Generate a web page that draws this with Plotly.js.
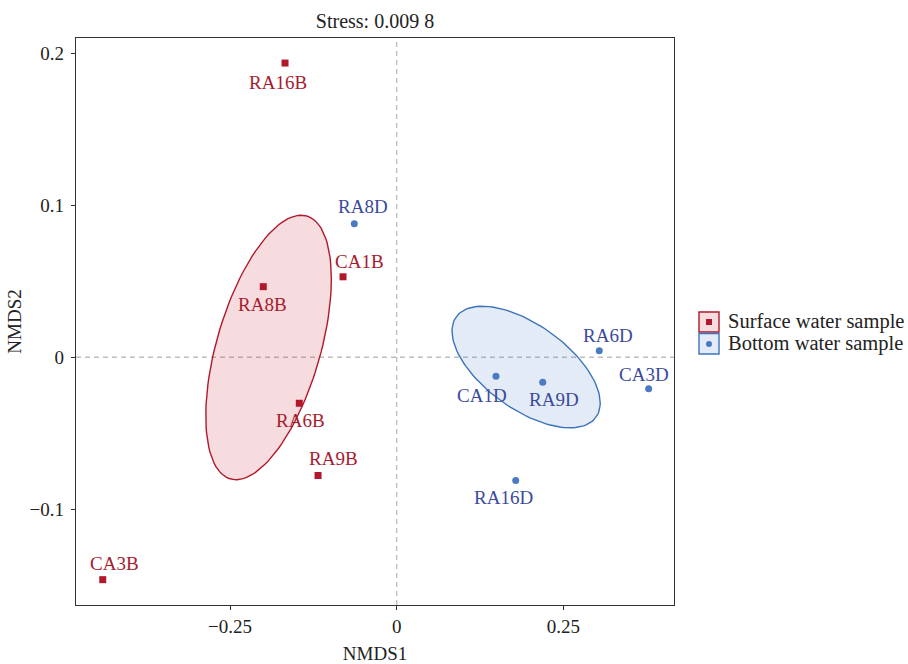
<!DOCTYPE html>
<html>
<head>
<meta charset="utf-8">
<script src="https://cdn.plot.ly/plotly-3.0.1.min.js"></script>
<style>html,body{margin:0;padding:0;background:#fff;}#chart{width:908px;height:664px;}</style>
</head>
<body>
<div id="chart"></div>
<script>
// ---- data ----
var groupNames = ["Surface water sample", "Bottom water sample"];

var surfaceLabels = ["RA16B", "RA8B", "CA1B", "RA6B", "RA9B", "CA3B"];
var surfaceX = [-0.1675, -0.2001, -0.0805, -0.1461, -0.1180, -0.4409];
var surfaceY = [0.1938, 0.0465, 0.0530, -0.0303, -0.0779, -0.1465];

var bottomLabels = ["RA8D", "RA6D", "CA3D", "CA1D", "RA9D", "RA16D"];
var bottomX = [-0.0636, 0.3038, 0.3779, 0.1489, 0.2190, 0.1785];
var bottomY = [0.0879, 0.0043, -0.0207, -0.0125, -0.0164, -0.0812];

var stressText = "Stress: 0.009 8";
var xTickVals = [-0.25, 0, 0.25];
var xTickText = ["\u22120.25", "0", "0.25"];
var yTickVals = [-0.1, 0, 0.1, 0.2];
var yTickText = ["\u22120.1", "0", "0.1", "0.2"];
var ellipseConf = 0.8;

// ---- label offsets (pixels, styling) ----
var surfaceShift = [[-7, 19], [-1, 17.5], [16, -15], [1, 17], [15, -17], [12, -16]];
var bottomShift = [[9, -17], [9, -15], [-5, -14], [-14, 19], [11, 17], [-12, 17]];

var RED = "#B2182B", REDTXT = "#A51C30";
var BLUE = "#4A7AC0", BLUELINE = "#3B73BC", BLUETXT = "#3B4A9C";
var FONT = "Liberation Serif, Times New Roman, serif";

// standard-error ellipse of a group, from its points
function seEllipse(xs, ys, conf) {
  var n = xs.length, mx = 0, my = 0;
  for (var i = 0; i < n; i++) { mx += xs[i]; my += ys[i]; }
  mx /= n; my /= n;
  var sxx = 0, syy = 0, sxy = 0;
  for (var i = 0; i < n; i++) {
    var dx = xs[i] - mx, dy = ys[i] - my;
    sxx += dx * dx; syy += dy * dy; sxy += dx * dy;
  }
  var a = sxx / (n - 1) / n, c = syy / (n - 1) / n, b = sxy / (n - 1) / n;
  var k = Math.sqrt(-2 * Math.log(1 - conf));
  var l11 = Math.sqrt(a), l21 = b / l11, l22 = Math.sqrt(c - l21 * l21);
  var ex = [], ey = [];
  for (var j = 0; j <= 120; j++) {
    var t = 2 * Math.PI * j / 120, u = Math.cos(t), v = Math.sin(t);
    ex.push(mx + k * l11 * u);
    ey.push(my + k * (l21 * u + l22 * v));
  }
  return {x: ex, y: ey};
}

var eS = seEllipse(surfaceX, surfaceY, ellipseConf);
var eB = seEllipse(bottomX, bottomY, ellipseConf);

var traces = [
  {x: eS.x, y: eS.y, mode: "lines", fill: "toself", fillcolor: "rgba(200,40,50,0.16)",
   line: {color: RED, width: 1.4}, hoverinfo: "skip", showlegend: false},
  {x: eB.x, y: eB.y, mode: "lines", fill: "toself", fillcolor: "rgba(70,120,200,0.15)",
   line: {color: BLUELINE, width: 1.4}, hoverinfo: "skip", showlegend: false},
  {x: surfaceX, y: surfaceY, text: surfaceLabels, name: groupNames[0], mode: "markers",
   marker: {symbol: "square", size: 7, color: RED}, showlegend: false},
  {x: bottomX, y: bottomY, text: bottomLabels, name: groupNames[1], mode: "markers",
   marker: {symbol: "circle", size: 7, color: BLUE}, showlegend: false}
];

var annotations = [];
surfaceLabels.forEach(function (t, i) {
  annotations.push({x: surfaceX[i], y: surfaceY[i], xref: "x", yref: "y", text: t, showarrow: false,
    xshift: surfaceShift[i][0], yshift: -surfaceShift[i][1],
    font: {family: FONT, size: 19, color: REDTXT}});
});
bottomLabels.forEach(function (t, i) {
  annotations.push({x: bottomX[i], y: bottomY[i], xref: "x", yref: "y", text: t, showarrow: false,
    xshift: bottomShift[i][0], yshift: -bottomShift[i][1],
    font: {family: FONT, size: 19, color: BLUETXT}});
});

// manual legend (positions in paper units; plot area 76..674 x, 37.7..605.3 y)
var L = 76, W = 598, T = 37.7, H = 567.6;
function px(v) { return (v - L) / W; }
function py(v) { return (T + H - v) / H; }

annotations.push({x: px(726), y: py(322), xref: "paper", yref: "paper", xanchor: "left", yanchor: "middle",
  text: groupNames[0], showarrow: false, font: {family: FONT, size: 20.5, color: "#222"}});
annotations.push({x: px(726), y: py(344), xref: "paper", yref: "paper", xanchor: "left", yanchor: "middle",
  text: groupNames[1], showarrow: false, font: {family: FONT, size: 20.5, color: "#222"}});

var shapes = [
  {type: "line", xref: "x", yref: "paper", x0: 0, x1: 0, y0: 0, y1: 1, layer: "below",
   line: {color: "#BDBDBD", width: 1.3, dash: "5px,4px"}},
  {type: "line", xref: "paper", yref: "y", x0: 0, x1: 1, y0: 0, y1: 0, layer: "below",
   line: {color: "#BDBDBD", width: 1.3, dash: "5px,4px"}},
  {type: "rect", xref: "paper", yref: "paper", x0: px(699), x1: px(719), y0: py(312), y1: py(332),
   fillcolor: "rgba(200,40,50,0.16)", line: {color: RED, width: 1.4}},
  {type: "rect", xref: "paper", yref: "paper", x0: px(699), x1: px(719), y0: py(333.5), y1: py(354),
   fillcolor: "rgba(70,120,200,0.15)", line: {color: BLUELINE, width: 1.4}},
  {type: "rect", xref: "paper", yref: "paper", x0: px(706), x1: px(712), y0: py(319), y1: py(325),
   fillcolor: RED, line: {width: 0}},
  {type: "circle", xref: "paper", yref: "paper", x0: px(706), x1: px(712), y0: py(341), y1: py(347),
   fillcolor: BLUE, line: {width: 0}}
];

var layout = {
  width: 908, height: 664,
  margin: {l: 76, r: 234, t: 37.7, b: 58.7, pad: 0},
  paper_bgcolor: "#fff", plot_bgcolor: "#fff",
  font: {family: FONT, size: 19, color: "#222"},
  title: {text: stressText, x: 0.5, xref: "paper", xanchor: "center", y: 1 - 21 / 664, yref: "container", yanchor: "middle",
    font: {family: FONT, size: 20, color: "#222"}},
  xaxis: {range: [-0.481, 0.4159], tickvals: xTickVals, ticktext: xTickText, showgrid: false, zeroline: false,
    showline: true, mirror: true, linecolor: "#333", linewidth: 1.3, ticks: "outside", ticklen: 4, tickcolor: "#333",
    tickfont: {family: FONT, size: 19, color: "#222"},
    title: {text: "NMDS1", font: {family: FONT, size: 19, color: "#222"}, standoff: 14}, automargin: false},
  yaxis: {range: [-0.1632, 0.2103], tickvals: yTickVals, ticktext: yTickText, showgrid: false, zeroline: false,
    showline: true, mirror: true, linecolor: "#333", linewidth: 1.3, ticks: "outside", ticklen: 4, tickcolor: "#333",
    ticklabelstandoff: 3,
    tickfont: {family: FONT, size: 19, color: "#222"},
    title: {text: "NMDS2", font: {family: FONT, size: 19, color: "#222"}, standoff: 2}, automargin: false},
  showlegend: false,
  annotations: annotations,
  shapes: shapes
};

Plotly.newPlot("chart", traces, layout, {displayModeBar: false, staticPlot: true});
</script>
</body>
</html>
